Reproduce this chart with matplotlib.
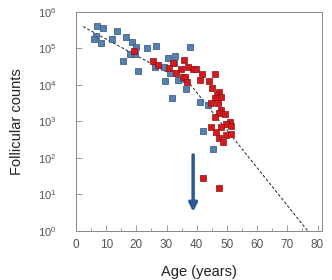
import matplotlib
matplotlib.use('Agg')
import matplotlib.pyplot as plt
from matplotlib.ticker import MultipleLocator

# ======================
# DATA
# ======================

# Blue group (younger women): age in years, follicle count
blue_age = [7.1, 9.1, 6.7, 8.2, 5.8, 11.8, 13.7, 16.5, 18.4, 20.0, 19.4, 17.8,
            15.6, 20.6, 23.5, 26.6, 26.0, 29.0, 32.8, 32.6, 29.6, 33.7, 37.9,
            31.1, 36.4, 31.7, 41.0, 43.7, 42.1, 45.3, 30.5, 36.0]
blue_count = [4.2e5, 3.6e5, 2.2e5, 1.4e5, 1.8e5, 1.8e5, 3.1e5, 2.1e5, 1.5e5,
              1.1e5, 6.9e4, 6.9e4, 4.4e4, 2.4e4, 1.05e5, 1.2e5, 3.2e4, 3.2e4,
              6.3e4, 3.9e4, 1.3e4, 1.4e4, 1.1e5, 2.1e4, 7.5e3, 4.3e3, 3.4e3,
              2.8e3, 560, 180, 5.5e4, 1.5e4]

# Red group (older women)
red_age = [19.1, 25.5, 27.1, 35.7, 34.8, 35.3, 33.1, 32.0, 38.8, 39.7, 36.1,
           36.6, 41.2, 44.0, 45.9, 45.1, 47.5, 46.7, 45.9, 48.1, 44.8, 47.0,
           48.1, 47.3, 49.2, 45.9, 51.0, 49.7, 48.1, 51.4, 44.8, 46.5, 49.7,
           47.5, 48.6, 51.4, 42.1, 47.3, 37.2, 41.8, 30.8]
red_count = [8.5e4, 4.5e4, 3.5e4, 4.8e4, 2.8e4, 1.7e4, 2.1e4, 4.1e4, 2.7e4,
             2.8e4, 1.7e4, 1.2e4, 1.4e4, 1.3e4, 2.0e4, 8.0e3, 6.5e3, 5.3e3,
             4.3e3, 4.6e3, 3.1e3, 3.1e3, 2.1e3, 1.7e3, 1.6e3, 1.3e3, 950, 870,
             710, 740, 680, 510, 420, 355, 270, 460, 28, 15, 3.2e4, 2.0e4, 3.0e4]

# Model curve (dashed)
fit_age = [2.3, 38.0, 76.7]
fit_count = [4.0e5, 1.0e4, 1.0]

# Downward arrow near age 39
arrow_age = 38.8
arrow_top = 120
arrow_bottom = 3.3

# ======================
# PLOT
# ======================

plt.rcParams.update({'font.size': 8, 'font.family': ['Liberation Sans', 'DejaVu Sans']})

fig = plt.figure(figsize=(3.32, 2.80), dpi=100)
ax = fig.add_axes([0.229, 0.176, 0.741, 0.781])

ax.plot(fit_age, fit_count, color='#222222', linewidth=0.7, linestyle=(0, (3, 2)))

ax.scatter(blue_age, blue_count, s=15, marker='s', color='#5580b0',
           edgecolors='#2d4f7a', linewidths=0.5, zorder=3)
ax.scatter(red_age, red_count, s=15, marker='s', color='#d4181c',
           edgecolors='#8c1014', linewidths=0.5, zorder=3)

ax.annotate('', xy=(arrow_age, arrow_bottom), xytext=(arrow_age, arrow_top),
            arrowprops=dict(arrowstyle='-|>', color='#2a5a8e', lw=2.5,
                            mutation_scale=12, shrinkA=0, shrinkB=0))

ax.set_yscale('log')
ax.set_ylim(1, 1e6)
ax.set_xlim(0, 81.5)
ax.xaxis.set_major_locator(MultipleLocator(10))
ax.xaxis.set_minor_locator(MultipleLocator(5))
ax.yaxis.set_minor_locator(matplotlib.ticker.NullLocator())

# Graph properties
ax.tick_params(which='both', direction='in', colors='#888888', labelcolor='#555555',
               width=0.6)
ax.tick_params(which='major', length=4)
ax.tick_params(which='minor', length=2)
ax.tick_params(axis='x', labelsize=8.5, pad=6)
ax.tick_params(axis='y', labelsize=8, pad=14)
for side in ['top', 'right', 'left', 'bottom']:
    ax.spines[side].set_color('#888888')
    ax.spines[side].set_linewidth(0.7)
    ax.spines[side].set_linestyle((0, (1, 1)))

ax.set_xlabel('Age (years)', fontsize=10.5, color='#222222', labelpad=10)
ax.set_ylabel('Follicular counts', fontsize=10.5, color='#222222', labelpad=10)

plt.savefig('out.png', dpi=100)
